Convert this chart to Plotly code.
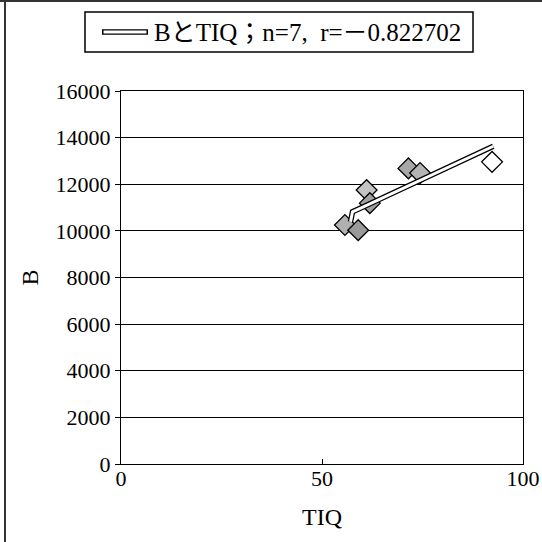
import plotly.graph_objects as go

# ---- data ----
tiq = [55.7, 59.0, 61.1, 61.9, 71.5, 74.4, 92.3]
b_vals = [10250, 10030, 11750, 11190, 12680, 12480, 12960]
marker_fill = ["#b0b0b0", "#9a9a9a", "#c4c4c4", "#a0a0a0", "#a8a8a8", "#b4b4b4", "#ffffff"]

trend_tiq = [57.1, 57.6, 60.3, 92.6]
trend_b = [10390, 10820, 11030, 13630]

x_ticks = [0, 50, 100]
y_ticks = [0, 2000, 4000, 6000, 8000, 10000, 12000, 14000, 16000]
legend_text = "BとTIQ；n=7,  r=－0.822702"
x_title = "TIQ"
y_title = "B"

# ---- layout geometry (pixels) ----
W, H = 542, 542
L, R, T, B = 121, 19, 91, 78
PW, PH = W - L - R, H - T - B

def px(x):
    return (x - L) / PW

def py(y):
    return 1 - (y - T) / PH

FONT = "Liberation Serif, Noto Sans CJK JP, serif"

fig = go.Figure()
fig.add_trace(go.Scatter(
    x=tiq, y=b_vals, mode="markers",
    marker=dict(symbol="diamond", size=16, color=marker_fill,
                line=dict(color="black", width=1.3)),
    showlegend=False, hoverinfo="x+y"))
fig.add_trace(go.Scatter(
    x=trend_tiq, y=trend_b, mode="lines",
    line=dict(color="black", width=5.5), showlegend=False, hoverinfo="skip"))
fig.add_trace(go.Scatter(
    x=trend_tiq, y=trend_b, mode="lines",
    line=dict(color="white", width=3), showlegend=False, hoverinfo="skip"))

shapes = []
# outer frame (left and top)
shapes.append(dict(type="line", xref="paper", yref="paper",
                   x0=px(5), x1=px(5), y0=py(0), y1=py(542),
                   line=dict(color="#333", width=2)))
shapes.append(dict(type="line", xref="paper", yref="paper",
                   x0=px(0), x1=px(542), y0=py(1), y1=py(1),
                   line=dict(color="#333", width=2)))
# legend box
shapes.append(dict(type="rect", xref="paper", yref="paper",
                   x0=px(85), x1=px(473), y0=py(52), y1=py(12),
                   line=dict(color="black", width=1.5), fillcolor="white"))
# legend symbol (double line)
shapes.append(dict(type="line", xref="paper", yref="paper",
                   x0=px(102), x1=px(148), y0=py(32), y1=py(32),
                   line=dict(color="black", width=5.5)))
shapes.append(dict(type="line", xref="paper", yref="paper",
                   x0=px(103.5), x1=px(146.5), y0=py(32), y1=py(32),
                   line=dict(color="white", width=3)))

fig.update_layout(
    width=W, height=H, autosize=False,
    margin=dict(l=L, r=R, t=T, b=B, pad=0, autoexpand=False),
    paper_bgcolor="white", plot_bgcolor="white",
    font=dict(family=FONT, size=22, color="black"),
    shapes=shapes,
    annotations=[dict(text=legend_text, xref="paper", yref="paper",
                      x=px(152), y=py(32), xanchor="left", yanchor="middle",
                      showarrow=False, font=dict(family=FONT, size=25, color="black"))],
    xaxis=dict(range=[0, 100], tickvals=x_ticks, ticktext=[str(v) for v in x_ticks],
               showgrid=False, zeroline=False, showline=True, linecolor="black",
               linewidth=1.2, mirror=True, ticks="inside", ticklen=5,
               tickcolor="black", automargin=False, ticklabelstandoff=-6,
               title=dict(text=x_title, font=dict(size=24), standoff=18)),
    yaxis=dict(range=[0, 16000], tickvals=y_ticks, ticktext=[str(v) for v in y_ticks],
               showgrid=True, gridcolor="black", gridwidth=1.2, zeroline=False,
               showline=True, linecolor="black", linewidth=1.2, mirror=True,
               ticks="outside", ticklen=5, tickcolor="black", automargin=False,
               title=dict(text=y_title, font=dict(size=24), standoff=10)),
)

fig.write_html(
    "out.html",
    config={"displayModeBar": False, "responsive": False},
    post_script="document.body.style.margin='0';document.body.style.overflow='hidden';",
)
